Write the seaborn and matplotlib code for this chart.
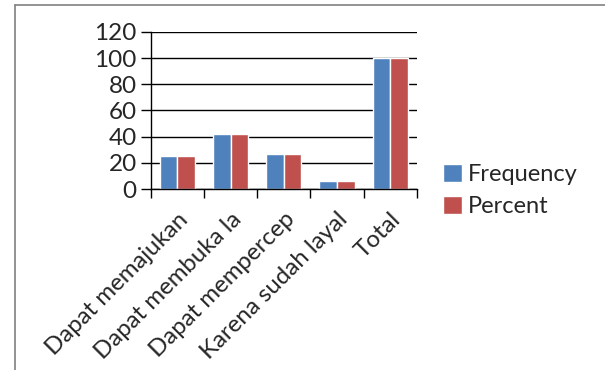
import numpy as np
import pandas as pd
import matplotlib
matplotlib.use("Agg")
import matplotlib.pyplot as plt
import seaborn as sns
from matplotlib.lines import Line2D

# data
categories = ["Dapat memajukan", "Dapat membuka la", "Dapat mempercep",
              "Karena sudah layal", "Total"]
frequency = [25, 42, 27, 6, 100]
percent = [25, 42, 27, 6, 100]
series = ["Frequency", "Percent"]
colors = ["#4F81BD", "#C0504D"]

df = pd.DataFrame({
    "kategori": categories * 2,
    "nilai": frequency + percent,
    "seri": [series[0]] * len(categories) + [series[1]] * len(categories),
})

sns.set_style("white")
plt.rcParams['font.family'] = ['Lato', 'DejaVu Sans']

fig = plt.figure(figsize=(6.05, 3.70), dpi=100)
ax = fig.add_axes([0.249, 0.489, 0.440, 0.425])

sns.barplot(data=df, x="kategori", y="nilai", hue="seri", palette=colors,
            width=0.66, saturation=1, ax=ax)

ax.set_ylim(0, 120)
ax.set_yticks(np.arange(0, 121, 20))
ax.set_xlim(-0.5, len(categories) - 0.5)
ax.yaxis.grid(True, color="black", linewidth=1)
ax.set_axisbelow(True)
for s in ["top", "right"]:
    ax.spines[s].set_visible(False)
for s in ["left", "bottom"]:
    ax.spines[s].set_color("black")
    ax.spines[s].set_linewidth(1)

# category ticks sit between groups, labels at centres
ax.set_xticks(np.arange(len(categories)))
ax.set_xticklabels(categories, rotation=45, ha="right", rotation_mode="anchor",
                   fontsize=17.3)
ax.tick_params(axis="x", length=0, pad=14)
ax.set_xticks(np.arange(-0.5, len(categories)), minor=True)
ax.tick_params(axis="x", which="minor", length=6.5, width=1, color="black",
               direction="out", bottom=True)
ax.tick_params(axis="y", length=7, width=1, color="black", direction="out",
               left=True, labelsize=17.5, pad=3)
ax.set_xlabel("")
ax.set_ylabel("")

ax.legend(loc="center left", bbox_to_anchor=(1.1, -0.01), frameon=False,
          fontsize=17, handlelength=0.8, handleheight=0.8, handletextpad=0.25,
          labelspacing=0.45, borderaxespad=0, borderpad=0)

# outer border of the original screenshot
fig.add_artist(Line2D([15 / 605, 1.0], [1 - 5 / 370, 1 - 5 / 370],
                      color="#808080", linewidth=1.2))
fig.add_artist(Line2D([15 / 605, 15 / 605], [0, 1 - 5 / 370],
                      color="#808080", linewidth=1.2))

fig.savefig("out.png", dpi=100)
